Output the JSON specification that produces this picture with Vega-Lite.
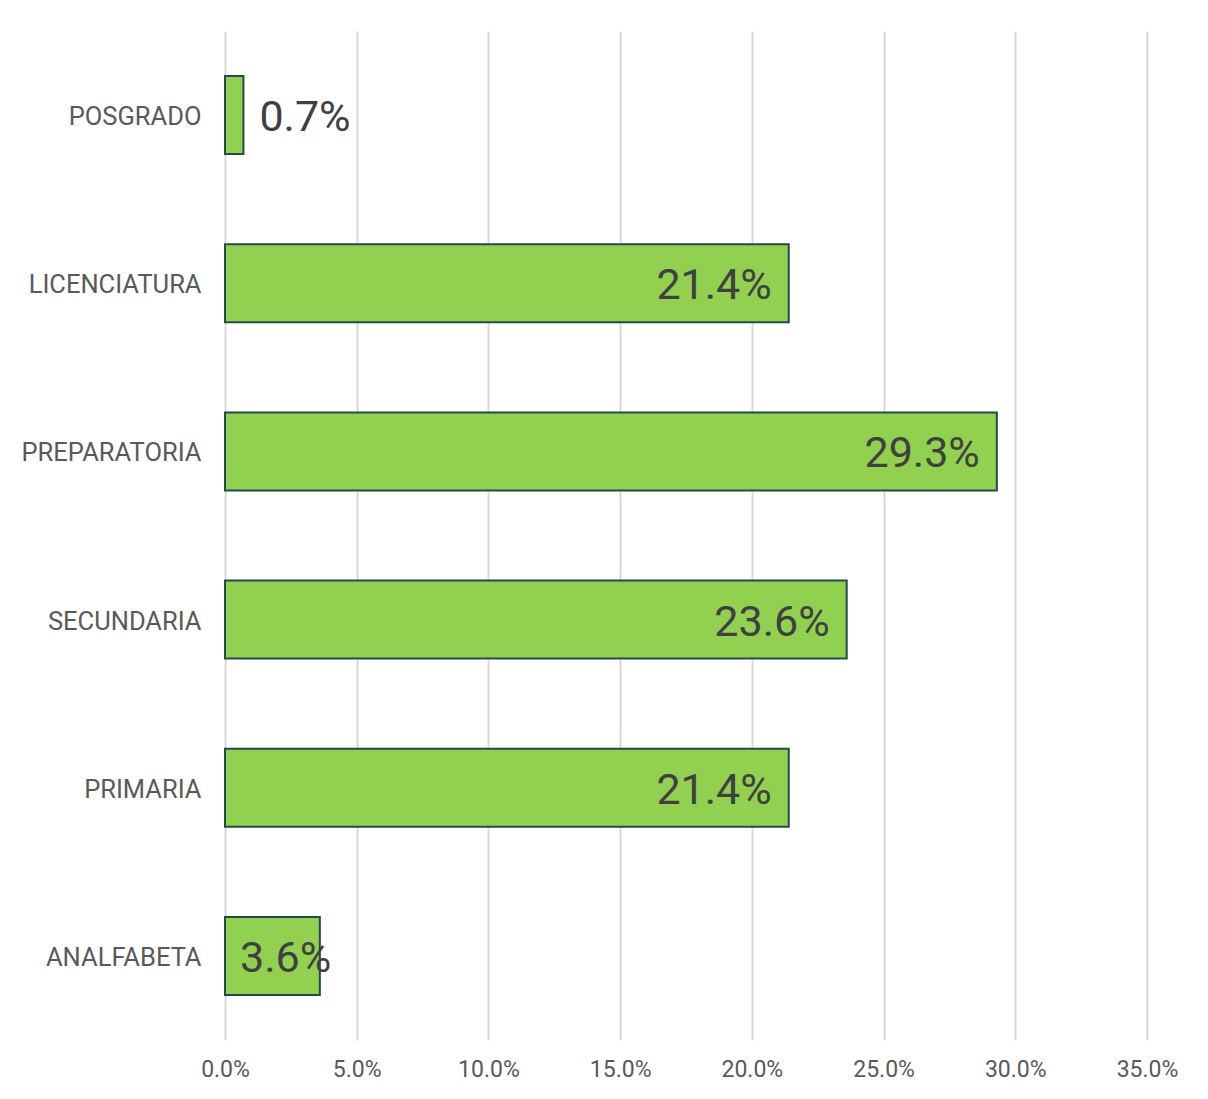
{
  "$schema": "https://vega.github.io/schema/vega-lite/v6.json",
  "width": 922,
  "height": 1009,
  "autosize": {"type": "none"},
  "padding": {"left": 225, "top": 31, "right": 61, "bottom": 59},
  "background": "white",
  "config": {"view": {"stroke": null}, "font": "Roboto"},
  "data": {"values": [
    {"nivel": "POSGRADO", "pct": 0.007},
    {"nivel": "LICENCIATURA", "pct": 0.214},
    {"nivel": "PREPARATORIA", "pct": 0.293},
    {"nivel": "SECUNDARIA", "pct": 0.236},
    {"nivel": "PRIMARIA", "pct": 0.214},
    {"nivel": "ANALFABETA", "pct": 0.036}
  ]},
  "encoding": {
    "y": {
      "field": "nivel", "type": "nominal",
      "sort": ["POSGRADO", "LICENCIATURA", "PREPARATORIA", "SECUNDARIA", "PRIMARIA", "ANALFABETA"],
      "scale": {"paddingInner": 0.536, "paddingOuter": 0.268},
      "axis": {"title": null, "ticks": false, "domain": false, "labelFontSize": 25.5, "labelColor": "#595959", "labelPadding": 24, "labelFont": "Roboto", "labelBaseline": "middle", "labelOffset": 2, "labelLimit": 300}
    }
  },
  "layer": [
    {
      "mark": {"type": "bar", "fill": "#92d050", "stroke": "#264a4c", "strokeWidth": 2},
      "encoding": {
        "x": {
          "field": "pct", "type": "quantitative",
          "scale": {"domain": [0, 0.35], "nice": false},
          "axis": {"title": null, "format": ".1%", "values": [0, 0.05, 0.1, 0.15, 0.2, 0.25, 0.3, 0.35], "ticks": false, "domain": false, "grid": true, "gridColor": "#d9d9d9", "gridWidth": 2, "labelFontSize": 23, "labelColor": "#595959", "labelPadding": 18, "labelFont": "Roboto", "labelFlush": false}
        }
      }
    },
    {
      "transform": [{"filter": "datum.pct >= 0.1"}],
      "mark": {"type": "text", "align": "right", "baseline": "middle", "dx": -17, "dy": 3, "fontSize": 43, "color": "#404040", "font": "Roboto"},
      "encoding": {
        "x": {"field": "pct", "type": "quantitative"},
        "text": {"field": "pct", "type": "quantitative", "format": ".1%"}
      }
    },
    {
      "transform": [{"filter": "datum.pct < 0.01"}],
      "mark": {"type": "text", "align": "left", "baseline": "middle", "dx": 16, "dy": 3, "fontSize": 43, "color": "#404040", "font": "Roboto"},
      "encoding": {
        "x": {"field": "pct", "type": "quantitative"},
        "text": {"field": "pct", "type": "quantitative", "format": ".1%"}
      }
    },
    {
      "transform": [{"filter": "datum.pct >= 0.01 && datum.pct < 0.1"}],
      "mark": {"type": "text", "align": "left", "baseline": "middle", "dx": 15, "dy": 3, "fontSize": 43, "color": "#404040", "font": "Roboto"},
      "encoding": {
        "x": {"datum": 0, "type": "quantitative"},
        "text": {"field": "pct", "type": "quantitative", "format": ".1%"}
      }
    }
  ]
}
